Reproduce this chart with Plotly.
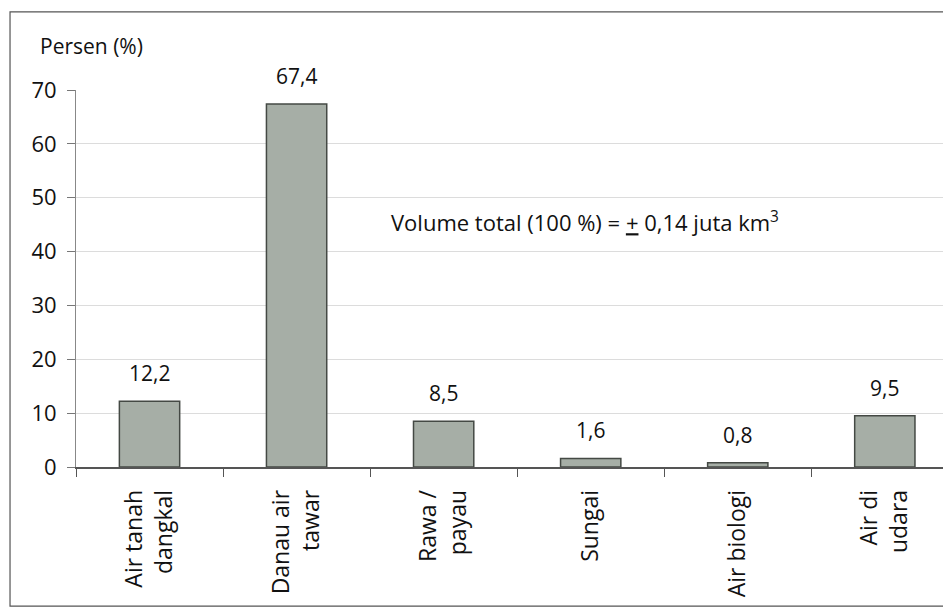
import plotly.graph_objects as go

# Data
kategori = ["Air tanah<br>dangkal", "Danau air<br>tawar", "Rawa /<br>payau",
            "Sungai", "Air biologi", "Air di<br>udara"]
persen = [12.2, 67.4, 8.5, 1.6, 0.8, 9.5]
label_bar = ["12,2", "67,4", "8,5", "1,6", "0,8", "9,5"]
y_ticks = [0, 10, 20, 30, 40, 50, 60, 70]

FONT = "'Open Sans', sans-serif"
WARNA_TEKS = "#111111"

fig = go.Figure()

fig.add_trace(go.Bar(
    x=kategori,
    y=persen,
    width=0.41,
    marker=dict(color="#a6aea6", line=dict(color="#444944", width=1.5)),
    showlegend=False,
))

# label nilai di atas batang (pakai anotasi supaya jaraknya bisa diatur)
anotasi = []
for kat, nilai, teks in zip(kategori, persen, label_bar):
    anotasi.append(dict(
        text=teks, x=kat, y=nilai, xref="x", yref="y",
        xanchor="center", yanchor="bottom", yshift=12,
        showarrow=False, font=dict(size=21, family=FONT, color=WARNA_TEKS),
    ))

anotasi.append(dict(
    text="Persen (%)", xref="paper", yref="paper",
    x=-0.0434, y=1.117, xanchor="left", yanchor="middle",
    showarrow=False, font=dict(size=21, family=FONT, color=WARNA_TEKS)))
anotasi.append(dict(
    text="Volume total (100 %) = <u>+</u> 0,14 juta km<sup>3</sup>",
    xref="x", yref="y", x=2.96, y=45.5,
    xanchor="center", yanchor="middle",
    showarrow=False, font=dict(size=22, family=FONT, color=WARNA_TEKS)))

# halaman html punya margin 8px, jadi margin di sini sudah dikurangi
fig.update_layout(
    width=951,
    height=609,
    margin=dict(l=68, r=8, t=82, b=150),
    paper_bgcolor="#ffffff",
    plot_bgcolor="#ffffff",
    font=dict(family=FONT, size=21, color=WARNA_TEKS),
    xaxis=dict(
        range=[-0.5, 5.45],
        tickangle=-90,
        tickson="boundaries",
        ticks="outside",
        ticklen=8,
        tickcolor="#555555",
        showline=True,
        linecolor="#555555",
        linewidth=1.5,
        showgrid=False,
        ticklabelstandoff=12,
        tickfont=dict(size=23, family=FONT, color=WARNA_TEKS),
    ),
    yaxis=dict(
        range=[0, 70],
        tickvals=y_ticks,
        ticks="outside",
        ticklen=8,
        tickcolor="#777777",
        showline=True,
        linecolor="#888888",
        linewidth=1,
        showgrid=True,
        gridcolor="#dcdcdc",
        gridwidth=1,
        zeroline=False,
        ticklabelstandoff=6,
        tickfont=dict(size=22, family=FONT, color=WARNA_TEKS),
    ),
    annotations=anotasi,
    shapes=[
        dict(type="rect", xref="paper", yref="paper",
             x0=-0.0754, x1=1.05, y0=-0.369, y1=1.207,
             line=dict(color="#555555", width=1.2), fillcolor="rgba(0,0,0,0)"),
    ],
)

fig.write_html("out.html")
